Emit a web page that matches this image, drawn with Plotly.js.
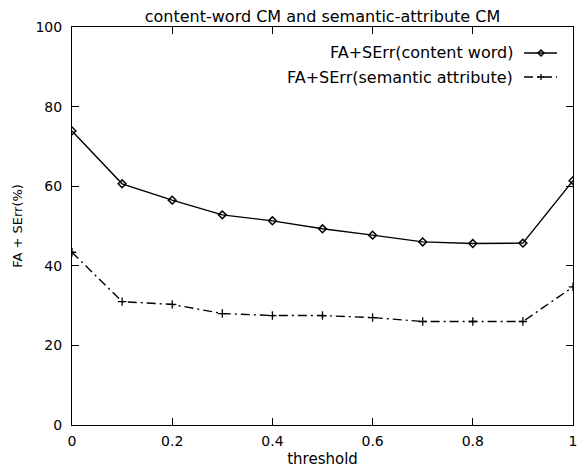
<!DOCTYPE html>
<html>
<head>
<meta charset="utf-8">
<script src="https://cdn.plot.ly/plotly-3.0.1.min.js"></script>
<style>html,body{margin:0;padding:0;background:#fff}#chart{width:584px;height:470px}</style>
</head>
<body>
<div id="chart"></div>
<script>
// ---- data ----
var thresholds = [0, 0.1, 0.2, 0.3, 0.4, 0.5, 0.6, 0.7, 0.8, 0.9, 1.0];
var contentWord = [73.9, 60.6, 56.5, 52.8, 51.3, 49.3, 47.7, 46.0, 45.6, 45.7, 61.4];
var semanticAttr = [43.4, 31.0, 30.3, 28.0, 27.5, 27.5, 27.0, 26.0, 26.0, 26.0, 34.7];
var seriesNames = ["FA+SErr(content word)", "FA+SErr(semantic attribute)"];
var xTickVals = [0, 0.2, 0.4, 0.6, 0.8, 1];
var xTickText = ["0", "0.2", "0.4", "0.6", "0.8", "1"];
var yTickVals = [0, 20, 40, 60, 80, 100];
var yTickText = ["0", "20", "40", "60", "80", "100"];
var chartTitle = "content-word CM and semantic-attribute CM";
var xTitle = "threshold";
var yTitle = "FA + SErr(%)";

var FONT = "DejaVu Sans, Arial, sans-serif";

var traces = [
  {
    x: thresholds, y: contentWord, name: seriesNames[0], type: "scatter", mode: "lines+markers",
    line: {color: "#000", width: 1.4, dash: "solid"},
    marker: {symbol: "diamond-open", size: 6, color: "#000", line: {width: 1.5, color: "#000"}},
    showlegend: false
  },
  {
    x: thresholds, y: semanticAttr, name: seriesNames[1], type: "scatter", mode: "lines+markers",
    line: {color: "#000", width: 1.4, dash: "9px,4px,2px,4px"},
    marker: {symbol: "cross-thin-open", size: 6, color: "#000", line: {width: 1.3, color: "#000"}},
    showlegend: false
  }
];

// plot area in px: x 72..573, y 27..425
var L = 72, R = 573, T = 27, B = 425;
function px(x) { return (x - L) / (R - L); }
function py(y) { return (B - y) / (B - T); }

var legendRows = [53, 77];
var annotations = [], shapes = [];
legendRows.forEach(function (ry, i) {
  annotations.push({
    xref: "paper", yref: "paper", x: px(515), y: py(ry), xanchor: "right", yanchor: "middle",
    text: seriesNames[i], showarrow: false, font: {family: FONT, size: 16, color: "#000"}
  });
  shapes.push({
    type: "line", xref: "paper", yref: "paper", x0: px(524), x1: px(557), y0: py(ry), y1: py(ry),
    line: {color: "#000", width: 1.4, dash: i === 0 ? "solid" : "9px,4px,2px,4px"}
  });
});
// legend marker glyphs
shapes.push({
  type: "path", xref: "paper", yref: "paper", xsizemode: "pixel", ysizemode: "pixel",
  xanchor: px(541), yanchor: py(legendRows[0]),
  path: "M0,3 L3,0 L0,-3 L-3,0 Z", line: {color: "#000", width: 1.5}, fillcolor: "rgba(0,0,0,0)"
});
shapes.push({
  type: "path", xref: "paper", yref: "paper", xsizemode: "pixel", ysizemode: "pixel",
  xanchor: px(541), yanchor: py(legendRows[1]),
  path: "M-3,0 L3,0 M0,-3 L0,3", line: {color: "#000", width: 1.3}
});

var axisCommon = {
  showline: true, linecolor: "#000", linewidth: 1, mirror: "allticks",
  ticks: "inside", ticklen: 7, tickwidth: 1, tickcolor: "#000",
  showgrid: false, zeroline: false,
  tickfont: {family: FONT, size: 14, color: "#000"}
};

var layout = {
  width: 584, height: 470,
  margin: {l: L, r: 584 - R, t: T, b: 470 - B, pad: 0},
  paper_bgcolor: "#fff", plot_bgcolor: "#fff",
  font: {family: FONT, color: "#000"},
  title: {
    text: chartTitle, font: {family: FONT, size: 16, color: "#000"},
    x: 0.5, xref: "paper", xanchor: "center", y: 1 - 16 / 470, yref: "container", yanchor: "middle"
  },
  xaxis: Object.assign({}, axisCommon, {
    range: [0, 1], tickvals: xTickVals, ticktext: xTickText, ticklabelstandoff: 3,
    title: {text: xTitle, font: {family: FONT, size: 15, color: "#000"}, standoff: 5}
  }),
  yaxis: Object.assign({}, axisCommon, {
    range: [0, 100], tickvals: yTickVals, ticktext: yTickText, ticklabelstandoff: 6,
    title: {text: yTitle, font: {family: FONT, size: 13, color: "#000"}, standoff: 9}
  }),
  annotations: annotations,
  shapes: shapes,
  showlegend: false
};

Plotly.newPlot("chart", traces, layout, {displayModeBar: false, staticPlot: true});
</script>
</body>
</html>
